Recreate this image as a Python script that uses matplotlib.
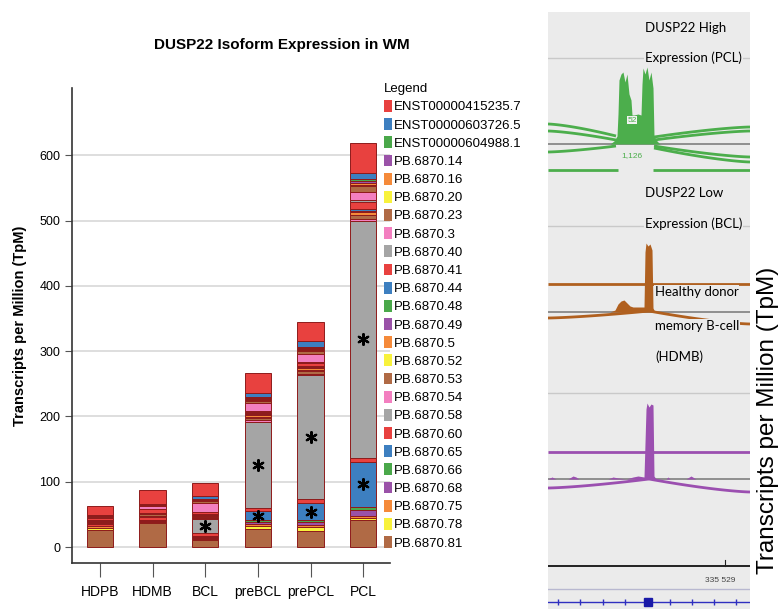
import numpy as np
import matplotlib
matplotlib.use("Agg")
import matplotlib.pyplot as plt
from matplotlib.patches import Patch

plt.rcParams['font.family'] = ['Liberation Sans', 'DejaVu Sans']

# ---- stacked bar data (TpM), legend order = top of stack first
groups = ['HDPB', 'HDMB', 'BCL', 'preBCL', 'prePCL', 'PCL']
isoforms = ['ENST00000415235.7', 'ENST00000603726.5', 'ENST00000604988.1',
            'PB.6870.14', 'PB.6870.16', 'PB.6870.20', 'PB.6870.23', 'PB.6870.3',
            'PB.6870.40', 'PB.6870.41', 'PB.6870.44', 'PB.6870.48', 'PB.6870.49',
            'PB.6870.5', 'PB.6870.52', 'PB.6870.53', 'PB.6870.54', 'PB.6870.58',
            'PB.6870.60', 'PB.6870.65', 'PB.6870.66', 'PB.6870.68', 'PB.6870.75',
            'PB.6870.78', 'PB.6870.81']
# one row per isoform, columns follow groups
tpm = [
    [15, 22, 20, 31, 29, 46],      # ENST00000415235.7
    [0.3, 0.5, 5, 7, 8, 10],       # ENST00000603726.5
    [0.2, 0.3, 0.5, 1, 2, 3],      # ENST00000604988.1
    [0.3, 0.3, 1.5, 1, 2, 3],      # PB.6870.14
    [0.5, 1, 1, 2, 2, 3],          # PB.6870.16
    [0.3, 0.3, 0.5, 1, 1, 1],      # PB.6870.20
    [1, 1, 3, 3, 5, 9],            # PB.6870.23
    [1, 4, 13, 13, 11, 12],        # PB.6870.3
    [0.5, 0.5, 1, 1, 2, 3],        # PB.6870.40
    [3, 5, 3, 2, 5, 12],           # PB.6870.41
    [0.3, 0.5, 0.5, 1, 1, 2],      # PB.6870.44
    [0.3, 0.3, 0.5, 1, 1, 1],      # PB.6870.48
    [0.3, 0.3, 0.5, 1, 1, 1],      # PB.6870.49
    [0.5, 1, 1.5, 3, 3, 4],        # PB.6870.5
    [0.5, 0.5, 0.5, 1, 1, 1],      # PB.6870.52
    [1, 2, 2, 4, 5, 6],            # PB.6870.53
    [2, 1, 1, 2, 2, 2],            # PB.6870.54
    [0.5, 0.5, 22, 132, 190, 364], # PB.6870.58
    [3, 5, 5, 5, 6, 6],            # PB.6870.60
    [0.5, 0.5, 1, 14, 26, 68],     # PB.6870.65
    [0.3, 0.3, 0.5, 2, 3, 6],      # PB.6870.66
    [0.5, 0.3, 1, 4, 5, 8],        # PB.6870.68
    [2, 2, 2, 3, 3, 3],            # PB.6870.75
    [3, 1.5, 1, 5, 5, 4],          # PB.6870.78
    [26.5, 37, 11, 27, 25, 41],    # PB.6870.81
]
# significance stars: (group, isoform)
starred = [('BCL', 'PB.6870.58'), ('preBCL', 'PB.6870.58'), ('preBCL', 'PB.6870.65'),
           ('prePCL', 'PB.6870.58'), ('prePCL', 'PB.6870.65'),
           ('PCL', 'PB.6870.58'), ('PCL', 'PB.6870.65')]

palette = ['#e8413f', '#3d7fc0', '#4aa84a', '#9a52a8', '#f58a3a',
           '#f8f23c', '#b06a45', '#f37fc0', '#a5a5a5']

# ---- genome browser (sashimi) panel data, x = position across window
pcl_x = [62, 66, 69, 70, 71, 73, 75, 77, 79, 81, 83, 84, 86, 90, 93, 94, 95, 97, 99, 101, 103, 105, 106, 109, 112]
pcl_h = [0, 3, 8, 30, 64, 70, 72, 62, 70, 50, 44, 29, 29, 30, 29, 60, 76, 70, 77, 64, 72, 56, 8, 3, 0]
bcl_x = [62, 67, 70, 73, 76, 79, 82, 85, 90, 96, 97, 98, 100, 102, 104, 105, 107]
bcl_h = [0, 2, 8, 11, 12, 9, 6, 5, 5, 5, 60, 69, 66, 68, 62, 4, 0]
hdmb_x = [0, 4, 6, 8, 20, 25, 28, 31, 60, 65, 70, 78, 85, 90, 96, 98, 99, 101, 103, 105, 106, 108,
          118, 120, 122, 138, 143, 148, 202]
hdmb_h = [0, 2, 1, 0, 0, 3, 2, 0, 0, 2, 1, 0, 2, 3, 2, 70, 76, 72, 75, 74, 3, 0,
          0, 2, 0, 0, 3, 0, 0]
# junction arcs (x0, y0, x1, y1) in panel units
pcl_arcs = [(0, 124, 68, 136), (0, 131, 68, 140), (106, 137, 202, 127), (106, 140, 202, 131),
            (0, 152, 68, 146), (106, 146, 202, 157), (106, 148, 202, 162),
            (0, 170, 70, 170), (105, 170, 202, 170)]
bcl_arcs = [(0, 284, 202, 284), (0, 318, 101, 311), (101, 311, 202, 324)]
hdmb_arcs = [(0, 452, 202, 452), (0, 488, 101, 479), (101, 479, 202, 492)]
gene_ticks = [10, 32, 55, 77, 122, 144, 166, 188]
exon_pos = 100

fig = plt.figure(figsize=(7.83, 6.09), dpi=100)

# ---------------- left: stacked bars
ax = fig.add_axes([72/783, 1 - 563/609, 318/783, 475/609])
x = np.arange(len(groups))
vals = np.array(tpm, dtype=float)
bottom = np.zeros(len(groups))
seg_bottom = {}
for i in range(len(isoforms) - 1, -1, -1):
    ax.bar(x, vals[i], 0.5, bottom=bottom, color=palette[i % len(palette)],
           edgecolor='#8e1b1b', linewidth=0.7, zorder=3)
    seg_bottom[isoforms[i]] = bottom.copy()
    bottom = bottom + vals[i]

for g, iso in starred:
    gi = groups.index(g)
    ii = isoforms.index(iso)
    yc = seg_bottom[iso][gi] + vals[ii][gi] / 2
    ax.scatter(x[gi], yc, marker=(6, 2, 0), s=60, color='black', linewidths=1.6, zorder=5)

ax.set_xlim(-0.53, 5.51)
ax.set_ylim(-24.5, 703)
ax.set_yticks(range(0, 700, 100))
ax.set_xticks(x)
ax.set_xticklabels(groups, fontsize=10)
ax.tick_params(axis='y', labelsize=9, length=5, color='#555555')
ax.tick_params(axis='x', length=10, color='#555555', pad=6)
ax.grid(axis='y', color='#d8d8d8', linewidth=1.2, zorder=0)
ax.spines['top'].set_visible(False)
ax.spines['right'].set_visible(False)
ax.spines['left'].set_color('#333333')
ax.spines['bottom'].set_color('#333333')
ax.spines['left'].set_linewidth(1.2)
ax.spines['bottom'].set_linewidth(1.2)
ax.set_ylabel('Transcripts per Million (TpM)', fontsize=10.5, fontweight='bold', labelpad=9)

fig.text(282/783, 1 - 45/609, 'DUSP22 Isoform Expression in WM', fontsize=11,
         fontweight='bold', ha='center', va='center')

handles = [Patch(facecolor=palette[i % len(palette)], edgecolor='none') for i in range(len(isoforms))]
leg = fig.legend(handles, isoforms, loc='upper left', bbox_to_anchor=(379/783, 1 - 78/609),
                 title='Legend', frameon=False, fontsize=9.5, title_fontsize=9.5,
                 handlelength=0.55, handleheight=1.0, handletextpad=0.15,
                 labelspacing=0.36, borderaxespad=0)
leg._legend_box.align = 'left'

# ---------------- right: browser panel
bx = fig.add_axes([548/783, 0, 202/783, 597/609])
bx.set_facecolor('#ebebeb')
bx.set_xlim(0, 202)
bx.set_ylim(609, 12)
bx.set_xticks([])
bx.set_yticks([])
for s in bx.spines.values():
    s.set_visible(False)

def arc(x0, y0, x1, y1, color):
    t = np.linspace(0, 1, 40)
    xs = x0 + (x1 - x0) * t
    ys = y0 + (y1 - y0) * (t ** 1.4 if x0 == 0 else 1 - (1 - t) ** 1.4)
    bx.plot(xs, ys, color=color, lw=2.0, solid_capstyle='butt', zorder=3)

tracks = [
    (pcl_x, pcl_h, 144, '#4cae4c', pcl_arcs),
    (bcl_x, bcl_h, 312, '#b0601f', bcl_arcs),
    (hdmb_x, hdmb_h, 479, '#9b4fb0', hdmb_arcs),
]
for sep in [58, 226, 393]:
    bx.axhline(sep, color='#c9c9c9', lw=1, zorder=1)
for tx, th, base, col, arcs in tracks:
    bx.axhline(base, color='#808080', lw=1.2, zorder=2)
    bx.fill_between(tx, base, base - np.array(th), color=col, lw=0, zorder=4)
    for a in arcs:
        arc(*a, col)

bx.text(84, 120, '52', fontsize=6, color='#4cae4c', ha='center', va='center', zorder=5,
        bbox=dict(facecolor='#f2f2f2', edgecolor='none', pad=0.3))
bx.text(84, 156, '1,126', fontsize=6, color='#4cae4c', ha='center', va='center', zorder=5)

lab_kw = dict(fontsize=9.5, family=['Lato', 'DejaVu Sans'], color='black', va='center', zorder=6,
              bbox=dict(facecolor='#ebebeb', edgecolor='none', pad=0.5))
bx.text(97, 28, 'DUSP22 High', **lab_kw)
bx.text(97, 58, 'Expression (PCL)', **lab_kw)
bx.text(97, 193, 'DUSP22 Low', **lab_kw)
bx.text(97, 224, 'Expression (BCL)', **lab_kw)
bx.text(107, 292, 'Healthy donor', **lab_kw)
bx.text(107, 326, 'memory B-cell', **lab_kw)
bx.text(107, 357, '(HDMB)', **lab_kw)

bx.axhline(566, color='#222222', lw=1.4, zorder=2)
bx.plot([177, 177], [560, 566], color='#222222', lw=0.8)
bx.text(172, 580, '335 529', fontsize=6, color='#444444', ha='center', va='center')
bx.axhline(589, color='#b8b8d0', lw=1)
bx.axhline(602, color='#3030c0', lw=1)
bx.plot(gene_ticks, [602] * len(gene_ticks), ls='none', marker='|', ms=4, color='#3030c0')
bx.plot([exon_pos], [602], marker='s', ms=6, color='#1a1aa8')

fig.text(768/783, 1 - 420/609, 'Transcripts per Million (TpM)', rotation=90, fontsize=17.5,
         ha='center', va='center')

fig.savefig('out.png', dpi=100)
